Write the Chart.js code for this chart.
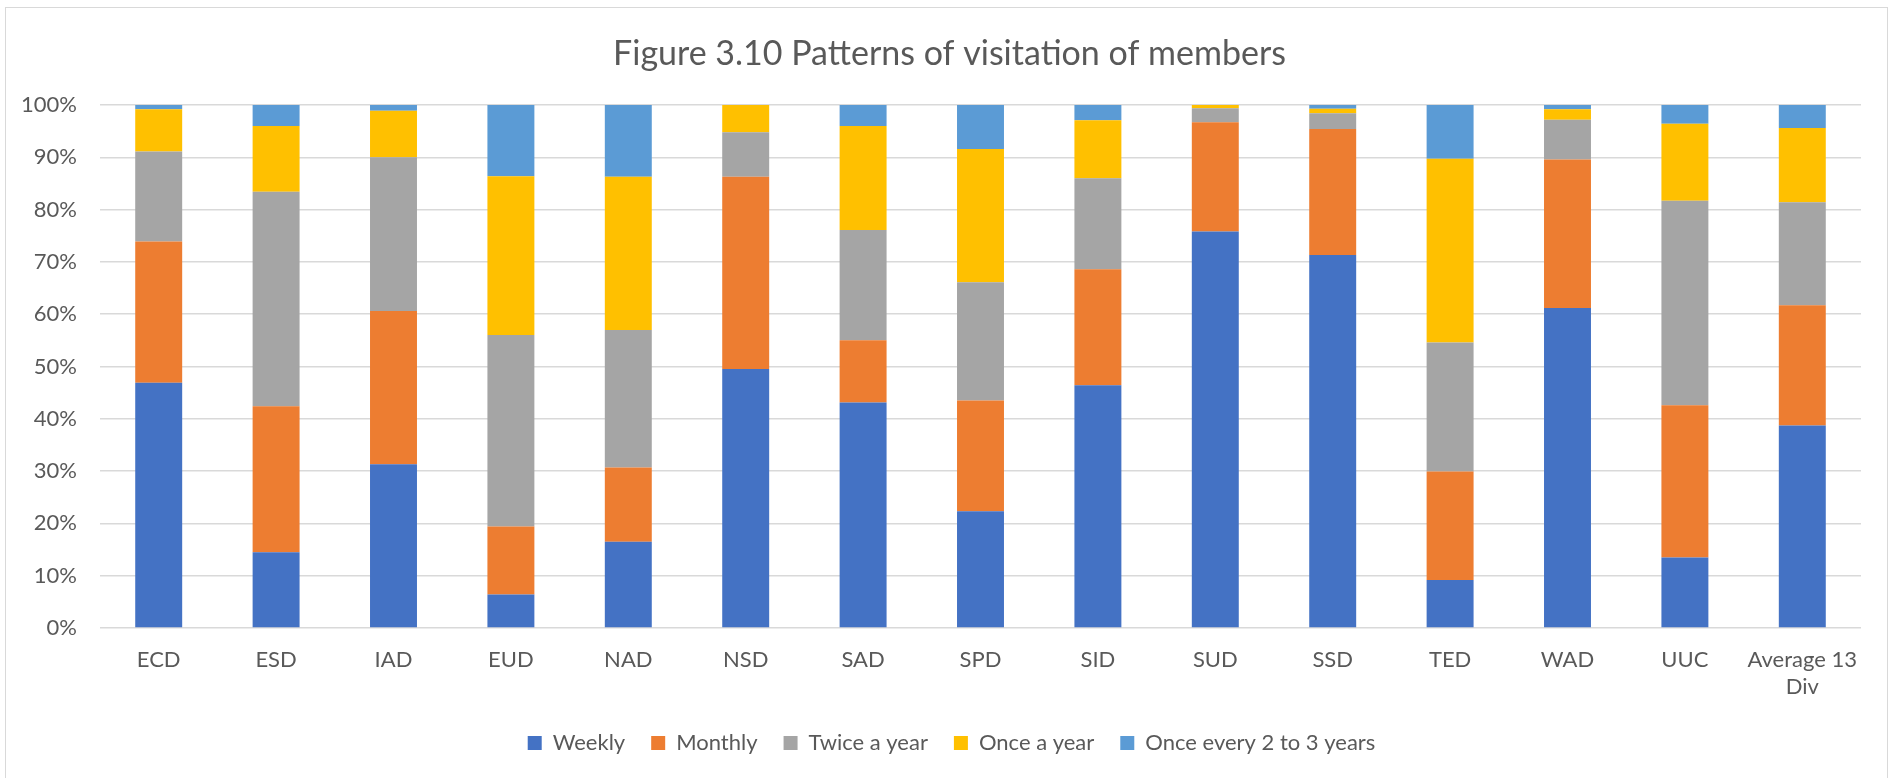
<!DOCTYPE html>
<html>
<head>
<meta charset="utf-8">
<script src="https://cdn.jsdelivr.net/npm/chart.js@4"></script>
<style>
  html, body { margin: 0; padding: 0; background: #ffffff; }
  #wrap { position: relative; width: 1891px; height: 778px; overflow: hidden; background: #fff; }
  #frame { position: absolute; left: 5px; top: 7px; width: 1883px; height: 790px; border: 1px solid #d9d9d9; box-sizing: border-box; pointer-events: none; }
  canvas { position: absolute; left: 0; top: 0; }
</style>
</head>
<body>
<div id="wrap">
  <canvas id="c" width="1891" height="778"></canvas>
  <div id="frame"></div>
</div>
<script>
const titleText = 'Figure 3.10 Patterns of visitation of members';
const categories = ['ECD','ESD','IAD','EUD','NAD','NSD','SAD','SPD','SID','SUD','SSD','TED','WAD','UUC','Average 13 Div'];
const seriesNames = ['Weekly','Monthly','Twice a year','Once a year','Once every 2 to 3 years'];
const weekly   = [46.9,14.5,31.3, 6.4,16.5,49.5,43.1,22.3,46.4,75.8,71.3, 9.2,61.2,13.5,38.7];
const monthly  = [27.0,27.9,29.3,13.0,14.2,36.8,11.9,21.2,22.2,20.9,24.1,20.7,28.4,29.1,23.0];
const twice    = [17.2,41.0,29.4,36.6,26.3, 8.5,21.1,22.6,17.4, 2.7, 3.0,24.7, 7.6,39.1,19.7];
const onceYear = [ 8.1,12.6, 8.9,30.4,29.3, 5.2,19.9,25.5,11.1, 0.6, 0.9,35.1, 2.0,14.7,14.2];
const every23  = [ 0.8, 4.0, 1.1,13.6,13.7, 0.0, 4.0, 8.4, 2.9, 0.0, 0.7,10.3, 0.8, 3.6, 4.4];
const yTicks = [0,10,20,30,40,50,60,70,80,90,100];
const colors = ['#4472C4','#ED7D31','#A5A5A5','#FFC000','#5B9BD5'];

const seriesValues = [weekly, monthly, twice, onceYear, every23];

Chart.defaults.font.family = 'Lato, "Open Sans", sans-serif';
Chart.defaults.color = '#595959';

// Shift title and legend boxes so they are centred like the reference (Excel centres on the full frame)
const centerShift = {
  id: 'centerShift',
  afterLayout(chart) {
    if (chart.titleBlock) chart.titleBlock.left += 38;
    if (chart.legend) chart.legend.left += 42;
  }
};

new Chart(document.getElementById('c'), {
  type: 'bar',
  data: {
    labels: categories,
    datasets: seriesNames.map((name, i) => ({
      label: name,
      data: seriesValues[i],
      backgroundColor: colors[i],
      borderWidth: 0,
      categoryPercentage: 1.0,
      barPercentage: 0.4
    }))
  },
  plugins: [centerShift],
  options: {
    responsive: false,
    devicePixelRatio: 1,
    animation: false,
    layout: { padding: { left: 0, right: 30, top: 0, bottom: 14 } },
    plugins: {
      title: {
        display: true,
        text: titleText,
        color: '#595959',
        font: { size: 34, weight: 'normal', lineHeight: 1.2 },
        padding: { top: 33.6, bottom: 30.6 }
      },
      legend: {
        position: 'bottom',
        labels: {
          boxWidth: 14,
          boxHeight: 14,
          padding: 26,
          color: '#595959',
          font: { size: 22 }
        }
      },
      tooltip: { enabled: false }
    },
    scales: {
      x: {
        stacked: true,
        grid: { display: false, drawTicks: false },
        border: { display: false },
        ticks: {
          autoSkip: false,
          maxRotation: 0,
          minRotation: 0,
          padding: 18,
          color: '#595959',
          font: { size: 22, lineHeight: 1.25 },
          callback: function (value) {
            const lbl = this.getLabelForValue(value);
            const words = lbl.split(' ');
            return words.length > 2 ? [words.slice(0, -1).join(' '), words[words.length - 1]] : lbl;
          }
        },
        afterFit: (scale) => { scale.height = 78; }
      },
      y: {
        stacked: true,
        min: 0,
        max: 100,
        afterBuildTicks: (scale) => { scale.ticks = yTicks.map(v => ({ value: v })); },
        grid: { color: '#d9d9d9', lineWidth: 1.5, drawTicks: false },
        border: { display: false },
        ticks: {
          padding: 23,
          color: '#595959',
          font: { size: 22 },
          callback: (v) => v + '%'
        },
        afterFit: (scale) => { scale.width = 100; }
      }
    }
  }
});
</script>
</body>
</html>
